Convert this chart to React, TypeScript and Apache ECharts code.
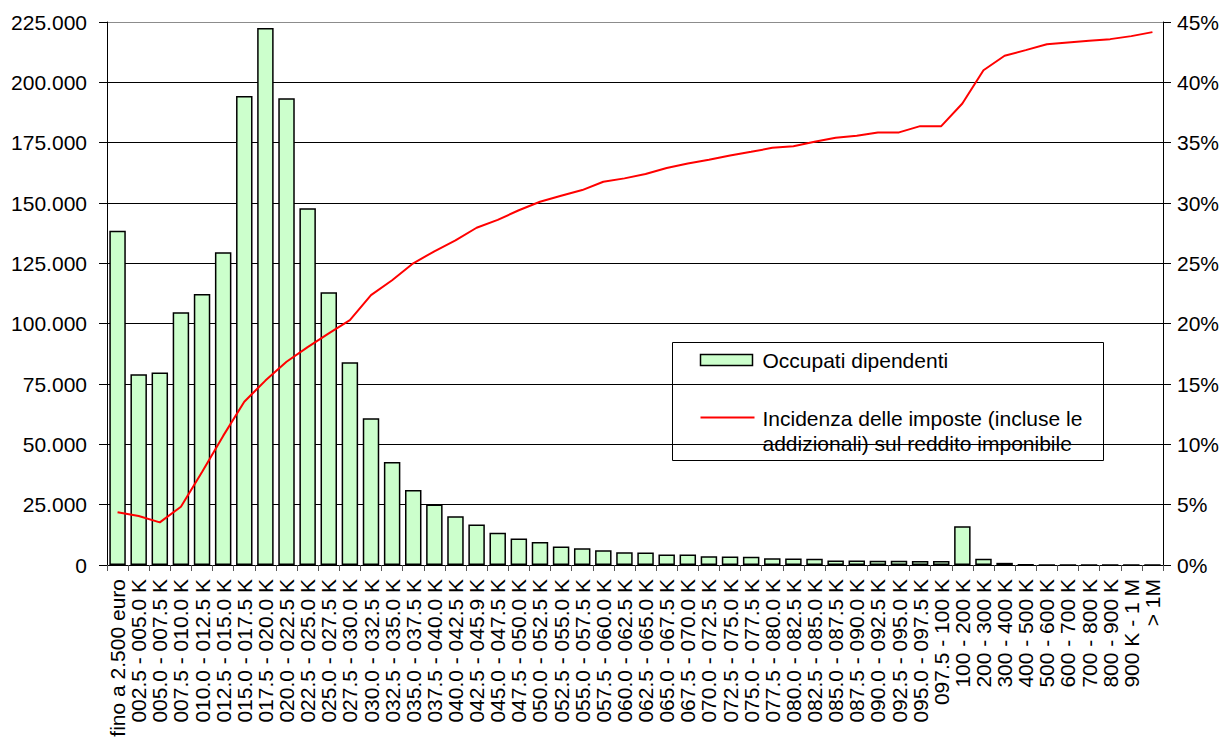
import React, { useEffect, useRef } from "react";
import * as echarts from "echarts";

const categories: string[] = [
  "fino a 2.500 euro",
  "002.5 - 005.0 K",
  "005.0 - 007.5 K",
  "007.5 - 010.0 K",
  "010.0 - 012.5 K",
  "012.5 - 015.0 K",
  "015.0 - 017.5 K",
  "017.5 - 020.0 K",
  "020.0 - 022.5 K",
  "022.5 - 025.0 K",
  "025.0 - 027.5 K",
  "027.5 - 030.0 K",
  "030.0 - 032.5 K",
  "032.5 - 035.0 K",
  "035.0 - 037.5 K",
  "037.5 - 040.0 K",
  "040.0 - 042.5 K",
  "042.5 - 045.9 K",
  "045.0 - 047.5 K",
  "047.5 - 050.0 K",
  "050.0 - 052.5 K",
  "052.5 - 055.0 K",
  "055.0 - 057.5 K",
  "057.5 - 060.0 K",
  "060.0 - 062.5 K",
  "062.5 - 065.0 K",
  "065.0 - 067.5 K",
  "067.5 - 070.0 K",
  "070.0 - 072.5 K",
  "072.5 - 075.0 K",
  "075.0 - 077.5 K",
  "077.5 - 080.0 K",
  "080.0 - 082.5 K",
  "082.5 - 085.0 K",
  "085.0 - 087.5 K",
  "087.5 - 090.0 K",
  "090.0 - 092.5 K",
  "092.5 - 095.0 K",
  "095.0 - 097.5 K",
  "097.5 - 100 K",
  "100 - 200 K",
  "200 - 300 K",
  "300 - 400 K",
  "400 - 500 K",
  "500 - 600 K",
  "600 - 700 K",
  "700 - 800 K",
  "800 - 900 K",
  "900 K - 1 M",
  "> 1M",
];

const occupatiDipendenti: number[] = [
  138500, 79000, 79800, 104700, 112300, 129600, 194300, 222500, 193400, 147800,
  113000, 84000, 60800, 42700, 31100, 25100, 20200, 16800, 13400, 11000,
  9500, 7700, 6900, 6100, 5300, 5200, 4400, 4300, 3600, 3500,
  3400, 2800, 2700, 2600, 1900, 1900, 1800, 1800, 1700, 1700,
  16100, 2600, 900, 150, 80, 50, 30, 20, 15, 60,
];

const incidenzaImposte: number[] = [
  4.37, 4.06, 3.53, 4.83, 7.7, 10.7, 13.53, 15.28, 16.84, 18.06,
  19.2, 20.3, 22.37, 23.6, 25.0, 26.0, 26.9, 27.95, 28.6, 29.4,
  30.1, 30.6, 31.07, 31.76, 32.04, 32.4, 32.9, 33.28, 33.58, 33.94,
  34.24, 34.57, 34.71, 35.07, 35.4, 35.57, 35.85, 35.85, 36.37, 36.37,
  38.25, 41.0, 42.2, 42.67, 43.16, 43.3, 43.44, 43.58, 43.83, 44.16,
];

const leftTicksMax = 225000;
const leftTicksStep = 25000;
const rightTicksMax = 45;
const rightTicksStep = 5;

const barName = "Occupati dipendenti";
const lineName =
  "Incidenza delle imposte (incluse le addizionali) sul reddito imponibile";
const lineLegendText =
  "Incidenza delle imposte (incluse le\naddizionali) sul reddito imponibile";

const FONT = '"Liberation Sans", Arial, sans-serif';

function fmtThousands(v: number): string {
  return String(Math.round(v)).replace(/\B(?=(\d{3})+(?!\d))/g, ".");
}

export default function App() {
  const ref = useRef<HTMLDivElement>(null);

  useEffect(() => {
    if (!ref.current) return;
    const chart = echarts.init(ref.current, undefined, { renderer: "svg" });

    const splitColors: string[] = [];
    for (let i = 0; i < leftTicksMax / leftTicksStep; i++) splitColors.push("#000000");
    splitColors.push("#8c8c8c");

    chart.setOption({
      animation: false,
      backgroundColor: "#ffffff",
      textStyle: { fontFamily: FONT, color: "#000" },
      grid: { left: 107, right: 63, top: 22, bottom: 182, containLabel: false },
      xAxis: {
        type: "category",
        data: categories,
        axisLine: { lineStyle: { color: "#000", width: 1 } },
        axisTick: { show: true, length: 6, lineStyle: { color: "#555" } },
        axisLabel: {
          interval: 0,
          rotate: 90,
          margin: 14,
          fontSize: 21,
          fontFamily: FONT,
          color: "#000",
        },
        splitLine: { show: false },
      },
      yAxis: [
        {
          type: "value",
          min: 0,
          max: leftTicksMax,
          interval: leftTicksStep,
          axisLine: { show: true, lineStyle: { color: "#000", width: 1 } },
          axisTick: { show: true, length: 8, lineStyle: { color: "#000" } },
          axisLabel: {
            margin: 20,
            fontSize: 21,
            fontFamily: FONT,
            color: "#000",
            formatter: (v: number) => fmtThousands(v),
          },
          splitLine: { show: true, lineStyle: { color: splitColors, width: 1 } },
        },
        {
          type: "value",
          min: 0,
          max: rightTicksMax,
          interval: rightTicksStep,
          position: "right",
          axisLine: { show: true, lineStyle: { color: "#000", width: 1 } },
          axisTick: { show: true, length: 8, lineStyle: { color: "#000" } },
          axisLabel: {
            margin: 14,
            fontSize: 21,
            fontFamily: FONT,
            color: "#000",
            formatter: (v: number) => `${Math.round(v)}%`,
          },
          splitLine: { show: false },
        },
      ],
      series: [
        {
          name: barName,
          type: "bar",
          data: occupatiDipendenti,
          yAxisIndex: 0,
          barCategoryGap: "22%",
          itemStyle: { color: "#ccffcc", borderColor: "#000", borderWidth: 1.5 },
        },
        {
          name: lineName,
          type: "line",
          data: incidenzaImposte,
          yAxisIndex: 1,
          symbol: "none",
          lineStyle: { color: "#ff0000", width: 2 },
          itemStyle: { color: "#ff0000" },
        },
      ],
      graphic: [
        {
          type: "group",
          left: 672,
          top: 342,
          children: [
            {
              type: "rect",
              shape: { x: 0, y: 0, width: 431, height: 118 },
              style: { fill: "#ffffff", stroke: "#000", lineWidth: 1 },
            },
            {
              type: "rect",
              shape: { x: 28, y: 12, width: 52, height: 11 },
              style: { fill: "#ccffcc", stroke: "#000", lineWidth: 1.5 },
            },
            {
              type: "text",
              x: 90,
              y: 17.5,
              style: {
                text: barName,
                font: `21px ${FONT}`,
                fill: "#000",
                textVerticalAlign: "middle",
                verticalAlign: "middle",
              },
            },
            {
              type: "line",
              shape: { x1: 28, y1: 75, x2: 82, y2: 75 },
              style: { stroke: "#ff0000", lineWidth: 2 },
            },
            {
              type: "text",
              x: 90,
              y: 63,
              style: {
                text: lineLegendText,
                font: `21px ${FONT}`,
                fill: "#000",
                lineHeight: 25,
                verticalAlign: "top",
                textVerticalAlign: "top",
              },
            },
          ],
        },
      ],
    });

    return () => chart.dispose();
  }, []);

  return (
    <div
      ref={ref}
      style={{ position: "absolute", left: 0, top: 0, width: 1226, height: 747 }}
    />
  );
}
